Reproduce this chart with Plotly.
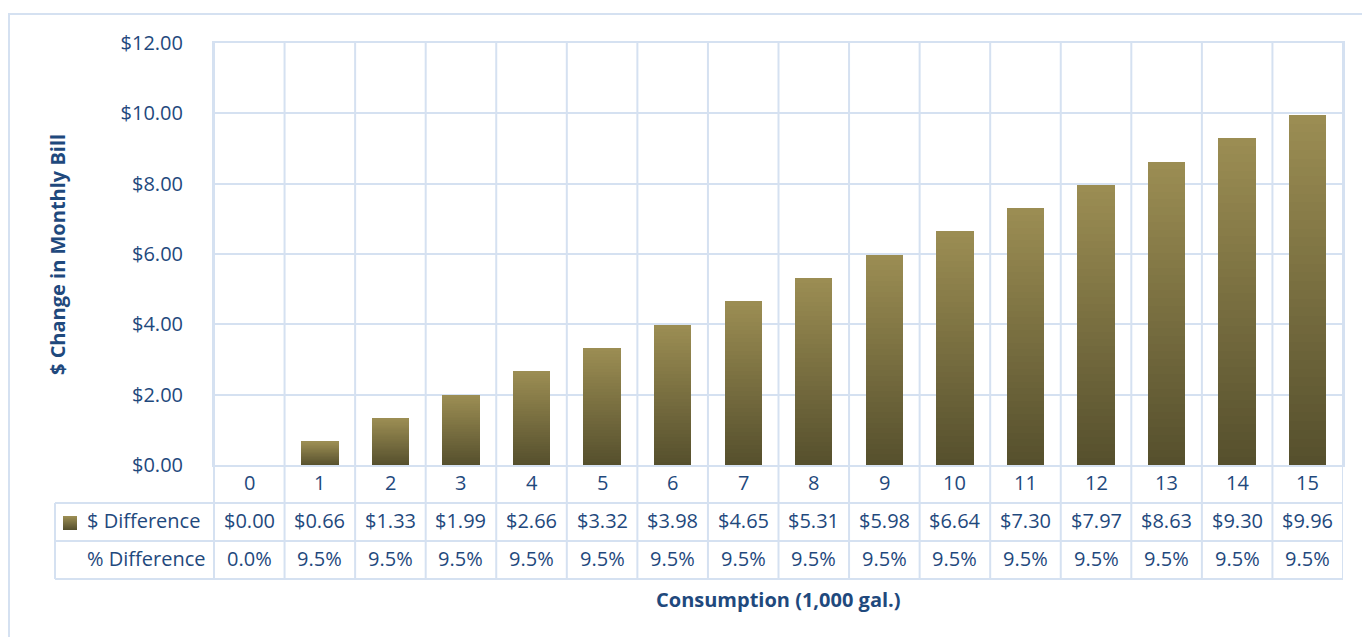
import plotly.graph_objects as go

# Monthly bill change by consumption level
consumption = list(range(16))
dollar_diff = [0.00, 0.66, 1.33, 1.99, 2.66, 3.32, 3.98, 4.65, 5.31, 5.98,
               6.64, 7.30, 7.97, 8.63, 9.30, 9.96]
pct_diff = [0.0] + [9.5] * 15

dollar_labels = [f"${v:.2f}" for v in dollar_diff]
pct_labels = [f"{v:.1f}%" for v in pct_diff]

W, H = 1362, 637
L, R, T, B = 214, 19, 43, 172
PW, PH = W - L - R, H - T - B

TEXT = "#1f497d"
GRID = "#d5e1f1"
FONT = "Open Sans"
FS = 20


def px_x(p):
    return (p - L) / PW


def px_y(p):
    return (H - B - p) / PH


def mix(c1, c2, t):
    a = [int(c1[i:i + 2], 16) for i in (1, 3, 5)]
    b = [int(c2[i:i + 2], 16) for i in (1, 3, 5)]
    return "#" + "".join(f"{round(x + (y - x) * t):02x}" for x, y in zip(a, b))


fig = go.Figure()

# Bars drawn as stacked slices so each bar gets a vertical gradient
N = 40
top_c, bot_c = "#9b8d53", "#56502d"
for k in range(N):
    fig.add_trace(go.Bar(
        x=consumption,
        y=[v / N for v in dollar_diff],
        width=0.53,
        marker=dict(color=mix(bot_c, top_c, k / (N - 1)), line=dict(width=0)),
        showlegend=False,
        hoverinfo="skip",
    ))

shapes = []
annotations = []

# Table row geometry (pixels)
row_edges = [465, 503, 541, 579]
row_mid = [(row_edges[i] + row_edges[i + 1]) / 2 - 1.5 for i in range(3)]
table_left = 55

# Vertical cell borders through plot and table
for k in range(len(consumption) + 1):
    shapes.append(dict(type="line", xref="x", yref="paper",
                       x0=k - 0.5, x1=k - 0.5, y0=1, y1=px_y(row_edges[-1]),
                       line=dict(color=GRID, width=2), layer="below"))
# Horizontal table borders
for yp in row_edges[1:]:
    shapes.append(dict(type="line", xref="paper", yref="paper",
                       x0=px_x(table_left), x1=1, y0=px_y(yp), y1=px_y(yp),
                       line=dict(color=GRID, width=2)))
shapes.append(dict(type="line", xref="paper", yref="paper",
                   x0=px_x(table_left), x1=px_x(table_left),
                   y0=px_y(row_edges[1]), y1=px_y(row_edges[-1]),
                   line=dict(color=GRID, width=2)))
shapes.append(dict(type="line", xref="paper", yref="paper",
                   x0=0, x1=0, y0=px_y(row_edges[0]), y1=px_y(row_edges[-1]),
                   line=dict(color=GRID, width=2)))

# Outer chart frame
shapes.append(dict(type="rect", xref="paper", yref="paper",
                   x0=px_x(9), x1=px_x(1370), y0=px_y(14), y1=px_y(650),
                   line=dict(color=GRID, width=2), fillcolor="rgba(0,0,0,0)"))

# Legend key square with gradient
KEY = 14
for j in range(KEY):
    y0p = 516 + j
    shapes.append(dict(type="rect", xref="paper", yref="paper",
                       x0=px_x(63), x1=px_x(77), y0=px_y(y0p + 1), y1=px_y(y0p),
                       fillcolor=mix(top_c, bot_c, j / (KEY - 1)),
                       line=dict(width=0)))

cell_font = dict(family=FONT, size=FS, color=TEXT)
for i, c in enumerate(consumption):
    for row, txt in zip(row_mid, [str(c), dollar_labels[i], pct_labels[i]]):
        annotations.append(dict(x=c, y=px_y(row), xref="x", yref="paper",
                                text=txt, showarrow=False, font=cell_font,
                                xanchor="center", yanchor="middle"))

annotations.append(dict(x=px_x(202), y=px_y(row_mid[1]), xref="paper", yref="paper",
                        text="$ Difference", showarrow=False, font=cell_font,
                        xanchor="right", yanchor="middle"))
annotations.append(dict(x=px_x(207), y=px_y(row_mid[2]), xref="paper", yref="paper",
                        text="% Difference", showarrow=False, font=cell_font,
                        xanchor="right", yanchor="middle"))

title_font = dict(family=FONT, size=FS, color=TEXT, weight="bold")
annotations.append(dict(x=0.5, y=px_y(599), xref="paper", yref="paper",
                        text="Consumption (1,000 gal.)", showarrow=False,
                        font=title_font, xanchor="center", yanchor="middle"))
annotations.append(dict(x=px_x(57), y=px_y(255), xref="paper", yref="paper",
                        text="$ Change in Monthly Bill", showarrow=False,
                        font=title_font, textangle=-90,
                        xanchor="center", yanchor="middle"))

fig.update_layout(
    width=W, height=H,
    margin=dict(l=L, r=R, t=T, b=B),
    paper_bgcolor="white",
    plot_bgcolor="white",
    barmode="stack",
    bargap=0,
    shapes=shapes,
    annotations=annotations,
    font=dict(family=FONT, color=TEXT),
    xaxis=dict(range=[-0.5, 15.5], showticklabels=False, showgrid=False,
               zeroline=False, showline=True, mirror=True,
               linecolor=GRID, linewidth=2, fixedrange=True),
    yaxis=dict(range=[0, 12], dtick=2, tickprefix="$", tickformat=".2f",
               showgrid=True, gridcolor=GRID, gridwidth=2, zeroline=False,
               showline=True, mirror=True, linecolor=GRID, linewidth=2,
               ticks="", ticklabelstandoff=25,
               tickfont=dict(family=FONT, size=FS, color=TEXT)),
)

fig.write_html("out.html")
